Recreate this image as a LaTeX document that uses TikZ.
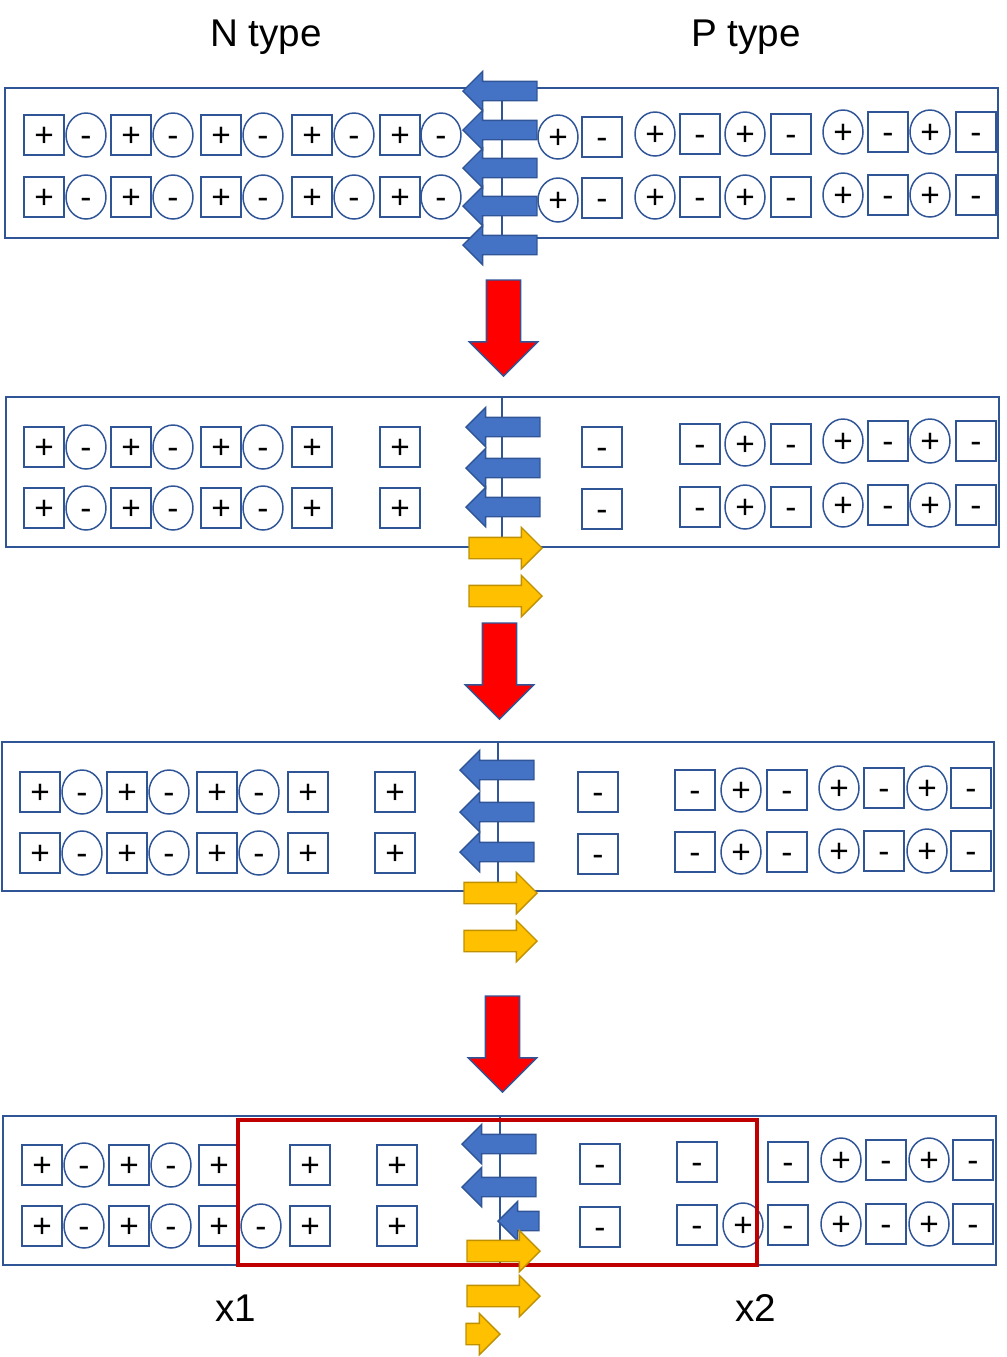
\documentclass[tikz,border=0pt]{standalone}
\usepackage{fontspec}
\setmainfont{Liberation Sans}
\usetikzlibrary{shapes.geometric,shapes.arrows}
\definecolor{frameblue}{HTML}{2F5597}
\definecolor{arrowblue}{HTML}{4472C4}
\definecolor{gold}{HTML}{FFC000}
\definecolor{goldline}{HTML}{BF9000}
\definecolor{zonered}{HTML}{C00000}
\begin{document}
\begin{tikzpicture}[x=0.02cm,y=-0.02cm,
  frame/.style={draw=frameblue,line width=1.1pt},
  sq node/.style={rectangle,draw=frameblue,line width=0.85pt,minimum size=0.8cm,inner sep=0pt,text height=13.2pt,text depth=0pt,font=\fontsize{19}{19}\selectfont},
  ring node/.style={ellipse,draw=frameblue,line width=0.85pt,minimum width=0.8cm,minimum height=0.88cm,inner sep=0pt,text height=13.2pt,text depth=0pt,font=\fontsize{19}{19}\selectfont},
  back arrow/.style={single arrow,draw=frameblue,fill=arrowblue,line width=0.8pt,inner sep=0pt,text height=0.18cm,text depth=0.18cm,single arrow head extend=0.2cm,minimum height=1.48cm,rotate=180,anchor=tip},
  fwd arrow/.style={single arrow,draw=goldline,fill=gold,line width=0.8pt,inner sep=0pt,text height=0.2cm,text depth=0.2cm,single arrow head extend=0.2cm,minimum height=1.46cm,anchor=tip},
  down arrow/.style={single arrow,draw=frameblue,fill=red,line width=0.8pt,inner sep=0pt,text height=0.33cm,text depth=0.33cm,single arrow head extend=0.34cm,minimum height=1.92cm,rotate=-90,anchor=tip},
  title/.style={font=\fontsize{22}{22}\selectfont}]

  \useasboundingbox (0,0) rectangle (1007,1357);

  \node[title] (ntype) at (266,37) {N type};
  \node[title] (ptype) at (746,37) {P type};

  % first state
  \draw[frame] (5,88) rectangle (998,238);
  \draw[frame] (502,88) -- (502,238);
  \foreach \x in {44,131,221,312,400}{
    \node[sq node] (a1\x) at (\x,135) {+};
    \node[sq node] (b1\x) at (\x,197) {+};}
  \foreach \x in {86,173,263,354,441}{
    \node[ring node] (a1\x) at (\x,135) {-};
    \node[ring node] (b1\x) at (\x,197) {-};}
  \foreach \x/\y/\z in {602/137/198,700/134/197,791/134/197,888/132/195,976/132/195}{
    \node[sq node] (a1\x) at (\x,\y) {-};
    \node[sq node] (b1\x) at (\x,\z) {-};}
  \foreach \x/\y/\z in {558/137/200,655/134/197,745/134/197,843/132/195,930/132/195}{
    \node[ring node] (a1\x) at (\x,\y) {+};
    \node[ring node] (b1\x) at (\x,\z) {+};}
  \foreach \y in {91,130,168,206,245}
    \node[back arrow] (e1\y) at (462,\y) {};

  \node[down arrow] (d1) at (503.5,377) {};

  % second state
  \draw[frame] (6,397) rectangle (999,547);
  \draw[frame] (502,397) -- (502,547);
  \foreach \x in {44,131,221,312,400}{
    \node[sq node] (a2\x) at (\x,447) {+};
    \node[sq node] (b2\x) at (\x,508) {+};}
  \foreach \x in {86,173,263}{
    \node[ring node] (a2\x) at (\x,447) {-};
    \node[ring node] (b2\x) at (\x,508) {-};}
  \foreach \x/\y/\z in {602/447/509,700/444/507,791/444/507,888/441/505,976/441/505}{
    \node[sq node] (a2\x) at (\x,\y) {-};
    \node[sq node] (b2\x) at (\x,\z) {-};}
  \foreach \x/\y/\z in {745/444/507,843/441/505,930/441/505}{
    \node[ring node] (a2\x) at (\x,\y) {+};
    \node[ring node] (b2\x) at (\x,\z) {+};}
  \foreach \y in {427,468,507}
    \node[back arrow] (e2\y) at (465,\y) {};
  \foreach \y in {548,596}
    \node[fwd arrow] (h2\y) at (543,\y) {};

  \node[down arrow] (d2) at (499.5,720) {};

  % third state
  \draw[frame] (2,742) rectangle (994,891);
  \draw[frame] (498,742) -- (498,891);
  \foreach \x in {40,127,217,308,395}{
    \node[sq node] (a3\x) at (\x,792) {+};
    \node[sq node] (b3\x) at (\x,853) {+};}
  \foreach \x in {82,169,259}{
    \node[ring node] (a3\x) at (\x,792) {-};
    \node[ring node] (b3\x) at (\x,853) {-};}
  \foreach \x/\y/\z in {598/792/854,695/790/852,787/790/852,884/788/851,971/788/851}{
    \node[sq node] (a3\x) at (\x,\y) {-};
    \node[sq node] (b3\x) at (\x,\z) {-};}
  \foreach \x/\y/\z in {741/790/852,839/788/851,927/788/851}{
    \node[ring node] (a3\x) at (\x,\y) {+};
    \node[ring node] (b3\x) at (\x,\z) {+};}
  \foreach \y in {770,812,852}
    \node[back arrow] (e3\y) at (459,\y) {};
  \foreach \y in {893,941}
    \node[fwd arrow] (h3\y) at (538,\y) {};

  \node[down arrow] (d3) at (502.5,1093) {};

  % fourth state
  \draw[frame] (3,1116) rectangle (996,1265);
  \draw[frame] (500,1116) -- (500,1265);
  \foreach \x in {42,129,219,310,397}{
    \node[sq node] (a4\x) at (\x,1165) {+};
    \node[sq node] (b4\x) at (\x,1226) {+};}
  \foreach \x in {84,171}
    \node[ring node] (a4\x) at (\x,1165) {-};
  \foreach \x in {84,171,261}
    \node[ring node] (b4\x) at (\x,1226) {-};
  \foreach \x/\y/\z in {600/1164/1227,697/1162/1225,788/1162/1225,886/1160/1224,973/1160/1224}{
    \node[sq node] (a4\x) at (\x,\y) {-};
    \node[sq node] (b4\x) at (\x,\z) {-};}
  \foreach \x in {841,929}
    \node[ring node] (a4\x) at (\x,1160) {+};
  \foreach \x/\z in {743/1225,841/1224,929/1224}
    \node[ring node] (b4\x) at (\x,\z) {+};

  \draw[zonered,line width=2.6pt] (238,1120) rectangle (757,1265);

  \foreach \y in {1144,1187}
    \node[back arrow] (e4\y) at (461,\y) {};
  \node[back arrow,minimum height=0.82cm] (e4s) at (497,1221) {};
  \foreach \y in {1251,1296}
    \node[fwd arrow] (h4\y) at (541,\y) {};
  \node[fwd arrow,minimum height=0.68cm] (h4s) at (501,1334) {};

  \node[title] (xone) at (236,1308) {x1};
  \node[title] (xtwo) at (756,1308) {x2};
\end{tikzpicture}
\end{document}
